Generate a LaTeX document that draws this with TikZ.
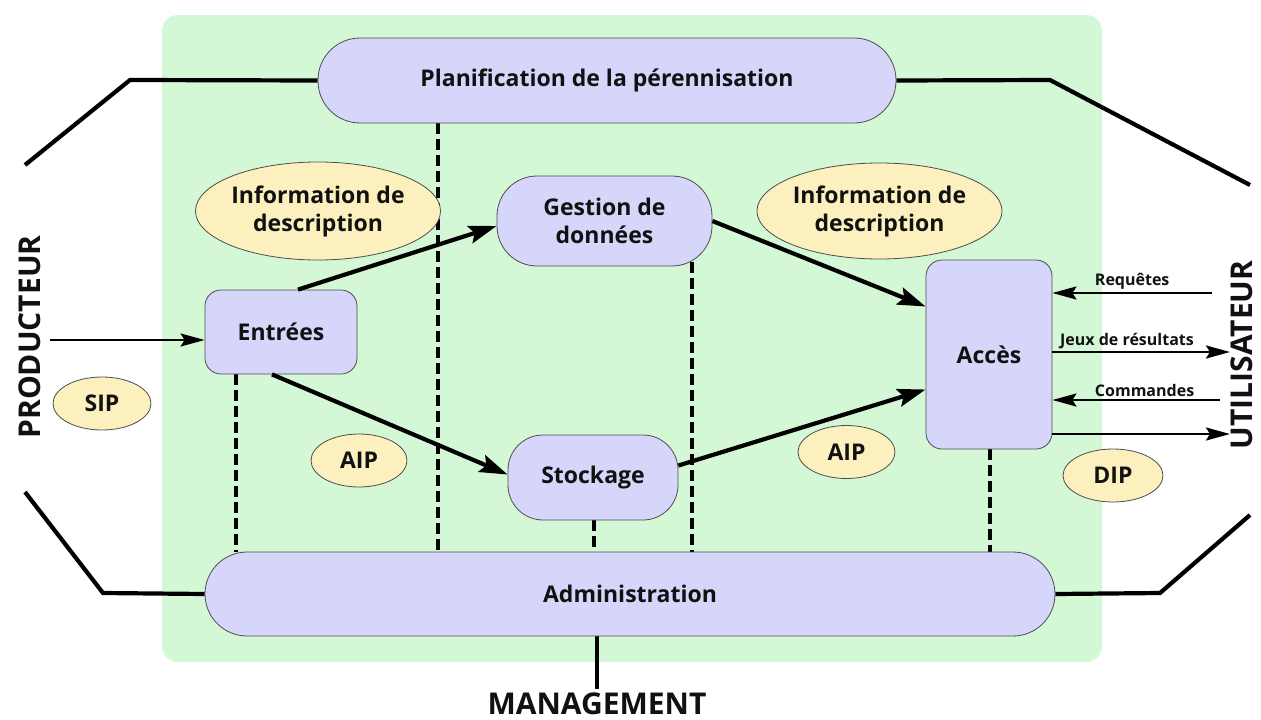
\documentclass[tikz,border=0pt]{standalone}
\usepackage{fontspec}
\setmainfont{Open Sans}
\usetikzlibrary{positioning,arrows.meta,shapes.geometric,backgrounds,calc}
\definecolor{oaisbg}{HTML}{D4F8D6}
\definecolor{oaisbox}{HTML}{D6D6FA}
\definecolor{oaisinfo}{HTML}{FCF0BE}
\definecolor{oaisedge}{HTML}{4D4D4D}
\definecolor{oaisink}{HTML}{111111}

\begin{document}
\begin{tikzpicture}[
  x=1pt, y=-1pt,
  font=\fontsize{23}{28}\selectfont\bfseries, text=oaisink,
  fonction/.style={draw=oaisedge, fill=oaisbox, line width=0.8pt, align=center, inner sep=0pt},
  paquet/.style={ellipse, draw=oaisedge, fill=oaisinfo, line width=0.8pt, align=center, inner sep=0pt},
  flux/.style={-{Stealth[length=28pt,width=18pt,inset=5pt]}, line width=4.2pt},
  lien/.style={-{Stealth[length=24pt,width=13pt,inset=4pt]}, line width=2.6pt},
  tirets/.style={line width=4.2pt, dash pattern=on 11pt off 5pt},
  bord/.style={line width=4.2pt},
  acteur/.style={font=\fontsize{30}{34}\selectfont\bfseries, rotate=90},
  etiquette/.style={font=\fontsize{16}{18}\selectfont\bfseries, inner sep=2pt},
  ]
  \useasboundingbox (0,0) rectangle (1261,720);

  \node[fonction, minimum width=578, minimum height=85, rounded corners=42] (plan) at (607,80.5)
    {Planification de la pérennisation};
  \node[fonction, minimum width=850, minimum height=84, rounded corners=42] (admin) at (630,594)
    {Administration};
  \node[fonction, minimum width=152, minimum height=84, rounded corners=16] (entrees) at (281,332) {Entrées};
  \node[fonction, minimum width=215, minimum height=90, rounded corners=40] (gestion) at (604.5,221)
    {Gestion de\\données};
  \node[fonction, minimum width=170, minimum height=85, rounded corners=35] (stockage) at (593,477.5) {Stockage};
  \node[fonction, minimum width=126, minimum height=189, rounded corners=16] (acces) at (989,354.5) {Accès};

  \node[paquet, minimum width=230, minimum height=98] (info1) at (318,211) {Information de\\description};
  \node[paquet, minimum width=225, minimum height=96] (info2) at (879.5,211) {Information de\\description};
  \node[paquet, minimum width=98, minimum height=53] (sip) at (102,403.5) {SIP};
  \node[paquet, minimum width=96, minimum height=53] (aip1) at (359,460.5) {AIP};
  \node[paquet, minimum width=97, minimum height=53] (aip2) at (846.5,452) {AIP};
  \node[paquet, minimum width=100, minimum height=53] (dip) at (1113,475.5) {DIP};

  \node[acteur] (producteur) at (30,337) {PRODUCTEUR};
  \node[acteur] (utilisateur) at (1242,355) {UTILISATEUR};
  \node[font=\fontsize{30}{34}\selectfont\bfseries] (management) at (597,704) {MANAGEMENT};

  \coordinate (hg1) at (25,165);  \coordinate (hg2) at (130,80);
  \coordinate (hd1) at (1050,80); \coordinate (hd2) at (1250,185);
  \coordinate (bg1) at (25,492);  \coordinate (bg2) at (103,593);
  \coordinate (bd1) at (1160,593); \coordinate (bd2) at (1250,515);
  \coordinate (prod) at (50,340);
  \coordinate (req) at (1212,293);
  \coordinate (res) at (1230,352);
  \coordinate (cmd) at (1220,400);
  \coordinate (dipout) at (1230,434);
  \coordinate (d1) at (236,374);
  \coordinate (d2) at (438,123);
  \coordinate (d3) at (594,520);
  \coordinate (d4) at (692,262);
  \coordinate (d5) at (990,449);

  \begin{scope}[on background layer]
    \fill[oaisbg, rounded corners=16] (162,15) rectangle (1102,662);
    \draw[tirets] (d1) -- (d1 |- admin.north);
    \draw[tirets] (d2) -- (d2 |- admin.north);
    \draw[tirets] (d3) -- (d3 |- admin.north);
    \draw[tirets] (d4) -- (d4 |- admin.north);
    \draw[tirets] (d5) -- (d5 |- admin.north);
    \draw[bord] (hg1) -- (hg2) -- (plan.west);
    \draw[bord] (plan.east) -- (hd1) -- (hd2);
    \draw[bord] (bg1) -- (bg2) -- (admin.west);
    \draw[bord] (admin.east) -- (bd1) -- (bd2);
    \draw[bord, line width=3.4pt] (management.north |- admin.south) -- (management.north);
  \end{scope}

  \draw[lien] (prod) -- (prod -| entrees.west);
  \draw[flux] ([xshift=17pt]entrees.north) -- ([yshift=-5pt]gestion.west);
  \draw[flux] ([xshift=-9pt]entrees.south) -- ([yshift=3pt]stockage.west);
  \draw[flux] (gestion.east) -- ([yshift=48pt]acces.west);
  \draw[flux] ([yshift=12pt]stockage.east) -- ([yshift=-35pt]acces.west);

  \draw[lien] (req) -- (req -| acces.east) node[etiquette, midway, above] {Requêtes};
  \draw[lien] (res -| acces.east) -- (res) node[etiquette, pos=0.42, above] {Jeux de résultats};
  \draw[lien] (cmd) -- (cmd -| acces.east) node[etiquette, pos=0.45, above] {Commandes};
  \draw[lien] (dipout -| acces.east) -- (dipout);
\end{tikzpicture}
\end{document}
